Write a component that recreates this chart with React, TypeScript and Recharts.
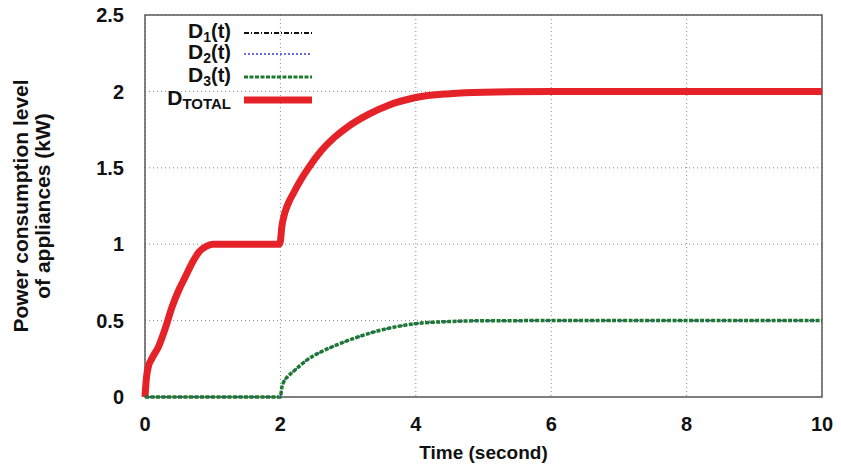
import {
  LineChart,
  Line,
  XAxis,
  YAxis,
  CartesianGrid,
  Legend,
  Label,
  ReferenceArea,
} from "recharts";

// time samples (seconds)
const times = [
  0, 0.02, 0.05, 0.1, 0.2, 0.3, 0.4, 0.5, 0.6, 0.7, 0.8, 0.9, 1.0, 1.5, 1.98,
  2.0, 2.02, 2.05, 2.1, 2.2, 2.3, 2.4, 2.6, 2.8, 3.0, 3.3, 3.6, 4.0, 4.5, 5, 6,
  7, 8, 9, 10,
];

const dTotal = [
  0, 0.12, 0.2, 0.25, 0.33, 0.45, 0.59, 0.7, 0.79, 0.88, 0.95, 0.985, 1, 1, 1,
  1.02, 1.11, 1.18, 1.25, 1.34, 1.42, 1.49, 1.61, 1.7, 1.77, 1.85, 1.91, 1.96,
  1.985, 1.995, 2, 2, 2, 2, 2,
];

const d3 = [
  0, 0, 0, 0, 0, 0, 0, 0, 0, 0, 0, 0, 0, 0, 0,
  0, 0.06, 0.1, 0.13, 0.17, 0.21, 0.245, 0.295, 0.335, 0.37, 0.415, 0.45, 0.48,
  0.494, 0.499, 0.5, 0.5, 0.5, 0.5, 0.5,
];

// D1 and D2 sit underneath the other curves in the picture
const d1 = [
  0, 0.12, 0.2, 0.25, 0.33, 0.45, 0.59, 0.7, 0.79, 0.88, 0.95, 0.985, 1, 1, 1,
  1, null, null, null, null, null, null, null, null, null, null, null, null,
  null, null, null, null, null, null, null,
];
const d2 = d3;

const xTicks = [0, 2, 4, 6, 8, 10];
const yTicks = [0, 0.5, 1, 1.5, 2, 2.5];

const data = times.map((t, i) => ({
  t,
  d1: d1[i],
  d2: d2[i],
  d3: d3[i],
  total: dTotal[i],
}));

const FONT = "'Liberation Sans', Arial, sans-serif";

const legendRows = [
  { sub: "1", suffix: "(t)", color: "#111", width: 2, dash: "5 2 1 2", y: 33 },
  { sub: "2", suffix: "(t)", color: "#3a3acc", width: 1.5, dash: "2 2", y: 54 },
  { sub: "3", suffix: "(t)", color: "#1c7a2c", width: 3, dash: "4 1.5", y: 77 },
  { sub: "TOTAL", suffix: "", color: "#e52228", width: 7, dash: undefined, y: 100 },
];

function CustomLegend() {
  return (
    <svg width={841} height={120} style={{ display: "block" }}>
      {legendRows.map((r) => (
        <g key={r.sub}>
          <text
            x={231}
            y={r.y + 5}
            textAnchor="end"
            fontFamily={FONT}
            fontWeight="bold"
            fontSize={21}
            fill="#111"
          >
            D
            <tspan fontSize={r.sub === "TOTAL" ? 15 : 14} dy={4}>
              {r.sub}
            </tspan>
            {r.suffix && (
              <tspan fontSize={20} dy={-4}>
                {r.suffix}
              </tspan>
            )}
          </text>
          <line
            x1={244}
            x2={312}
            y1={r.y}
            y2={r.y}
            stroke={r.color}
            strokeWidth={r.width}
            strokeDasharray={r.dash}
          />
        </g>
      ))}
    </svg>
  );
}

function YTitle(props: any) {
  const vb = props.viewBox || {};
  const cy = (vb.y ?? 15) + (vb.height ?? 382) / 2;
  return (
    <g fontFamily={FONT} fontWeight="bold" fontSize={21} fill="#111">
      <text x={28} y={cy} textAnchor="middle" transform={`rotate(-90 28 ${cy})`}>
        Power consumption level
      </text>
      <text x={50} y={cy} textAnchor="middle" transform={`rotate(-90 50 ${cy})`}>
        of appliances (kW)
      </text>
    </g>
  );
}

export default function App() {
  const tickStyle = {
    fontFamily: FONT,
    fontWeight: "bold",
    fontSize: 20,
    fill: "#111",
  };
  return (
    <div style={{ position: "absolute", left: 0, top: 0, background: "#fff" }}>
      <LineChart
        width={841}
        height={472}
        data={data}
        margin={{ top: 15, right: 19, bottom: 0, left: 0 }}
      >
        <CartesianGrid
          stroke="#8a8a8a"
          strokeDasharray="1 3"
          horizontalValues={yTicks}
          verticalValues={xTicks}
        />
        <XAxis
          dataKey="t"
          type="number"
          domain={[0, 10]}
          ticks={xTicks}
          height={75}
          tickLine={false}
          tickMargin={14}
          axisLine={false}
          tick={tickStyle}
        >
          <Label
            value="Time (second)"
            position="insideBottom"
            offset={13}
            style={{ fontFamily: FONT, fontWeight: "bold", fontSize: 19, fill: "#111" }}
          />
        </XAxis>
        <YAxis
          type="number"
          domain={[0, 2.5]}
          ticks={yTicks}
          width={145}
          tickLine={false}
          tickMargin={15}
          axisLine={false}
          tick={tickStyle}
          label={<YTitle />}
        />
        <ReferenceArea
          x1={0}
          x2={10}
          y1={0}
          y2={2.5}
          fill="none"
          stroke="#5a5a5a"
          strokeWidth={1.5}
        />
        <Legend
          layout="vertical"
          align="center"
          verticalAlign="middle"
          wrapperStyle={{ position: "absolute", left: 0, top: 0, width: 841 }}
          content={() => <CustomLegend />}
        />
        <Line
          dataKey="d1"
          type="monotone"
          stroke="#111"
          strokeWidth={2}
          strokeDasharray="5 2 1 2"
          dot={false}
          connectNulls={false}
          isAnimationActive={false}
        />
        <Line
          dataKey="d2"
          type="monotone"
          stroke="#3a3acc"
          strokeWidth={1.5}
          strokeDasharray="2 2"
          dot={false}
          isAnimationActive={false}
        />
        <Line
          dataKey="total"
          type="monotone"
          stroke="#e52228"
          strokeWidth={7}
          dot={false}
          isAnimationActive={false}
        />
        <Line
          dataKey="d3"
          type="monotone"
          stroke="#1c7a2c"
          strokeWidth={3.5}
          strokeDasharray="4 1.5"
          dot={false}
          isAnimationActive={false}
        />
      </LineChart>
    </div>
  );
}
